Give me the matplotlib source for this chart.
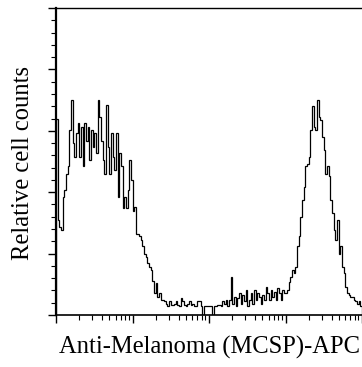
import numpy as np
import matplotlib
matplotlib.use("Agg")
import matplotlib.pyplot as plt
from matplotlib.ticker import LogLocator, MultipleLocator, NullFormatter

# histogram counts per channel, 4 log decades
counts = [160, 77, 72, 69, 96, 102, 115, 121, 151, 175, 140, 129, 148, 156, 129, 153,
          121, 156, 142, 153, 126, 151, 137, 148, 132, 175, 161, 142, 126, 115, 171, 137,
          115, 148, 129, 118, 148, 96, 132, 121, 87, 96, 87, 102, 126, 110, 85, 88,
          66, 66, 64, 61, 56, 50, 47, 42, 39, 37, 28, 18, 26, 15, 18, 12,
          12, 11, 9, 7, 11, 8, 8, 9, 11, 8, 7, 14, 11, 8, 7, 9,
          11, 8, 9, 7, 7, 11, 11, 7, 0, 7, 7, 7, 7, 7, 0, 7,
          7, 8, 8, 7, 11, 9, 12, 7, 12, 31, 9, 15, 7, 14, 18, 9,
          16, 11, 20, 7, 12, 18, 9, 20, 12, 18, 15, 9, 16, 12, 23, 18,
          12, 20, 15, 19, 12, 22, 18, 12, 20, 18, 18, 20, 27, 31, 37, 34,
          39, 56, 64, 80, 94, 104, 121, 123, 129, 151, 170, 153, 151, 175, 161, 159,
          145, 134, 115, 121, 113, 94, 83, 69, 61, 77, 50, 56, 39, 34, 23, 18,
          16, 15, 15, 12, 11, 9, 11, 7]
log_min = 0
log_max = 4
xlabel = "Anti-Melanoma (MCSP)-APC"
ylabel = "Relative cell counts"

edges = np.logspace(log_min, log_max, len(counts) + 1)

fig = plt.figure(figsize=(3.62, 3.67), dpi=100)
ax = fig.add_axes([56 / 362, 1 - 315 / 367, 306 / 362, 307 / 367])

ax.stairs(counts, edges, color="black", linewidth=0.9)

ax.set_xscale("log")
ax.set_xlim(10 ** log_min, 10 ** log_max)
ax.set_ylim(0, 250)
ax.xaxis.set_major_locator(LogLocator(base=10, numticks=10))
ax.xaxis.set_minor_locator(LogLocator(base=10, subs=np.arange(2, 10), numticks=20))
ax.xaxis.set_major_formatter(NullFormatter())
ax.xaxis.set_minor_formatter(NullFormatter())
ax.yaxis.set_major_locator(MultipleLocator(50))
ax.yaxis.set_minor_locator(MultipleLocator(10))
ax.yaxis.set_major_formatter(NullFormatter())

ax.tick_params(which="major", direction="out", length=6, width=1)
ax.tick_params(which="minor", direction="out", length=3.5, width=0.8)
ax.spines["right"].set_visible(False)
ax.spines["left"].set_linewidth(1.6)
ax.spines["bottom"].set_linewidth(1.2)
ax.spines["top"].set_linewidth(1.0)

fig.text(0.58, 1 - 347 / 367, xlabel, ha="center", va="center",
         family="Liberation Serif", fontsize=17.7)
fig.text(23 / 362, 1 - 163 / 367, ylabel, ha="center", va="center", rotation=90,
         family="Liberation Serif", fontsize=17.7)

fig.savefig("out.png", dpi=100)
